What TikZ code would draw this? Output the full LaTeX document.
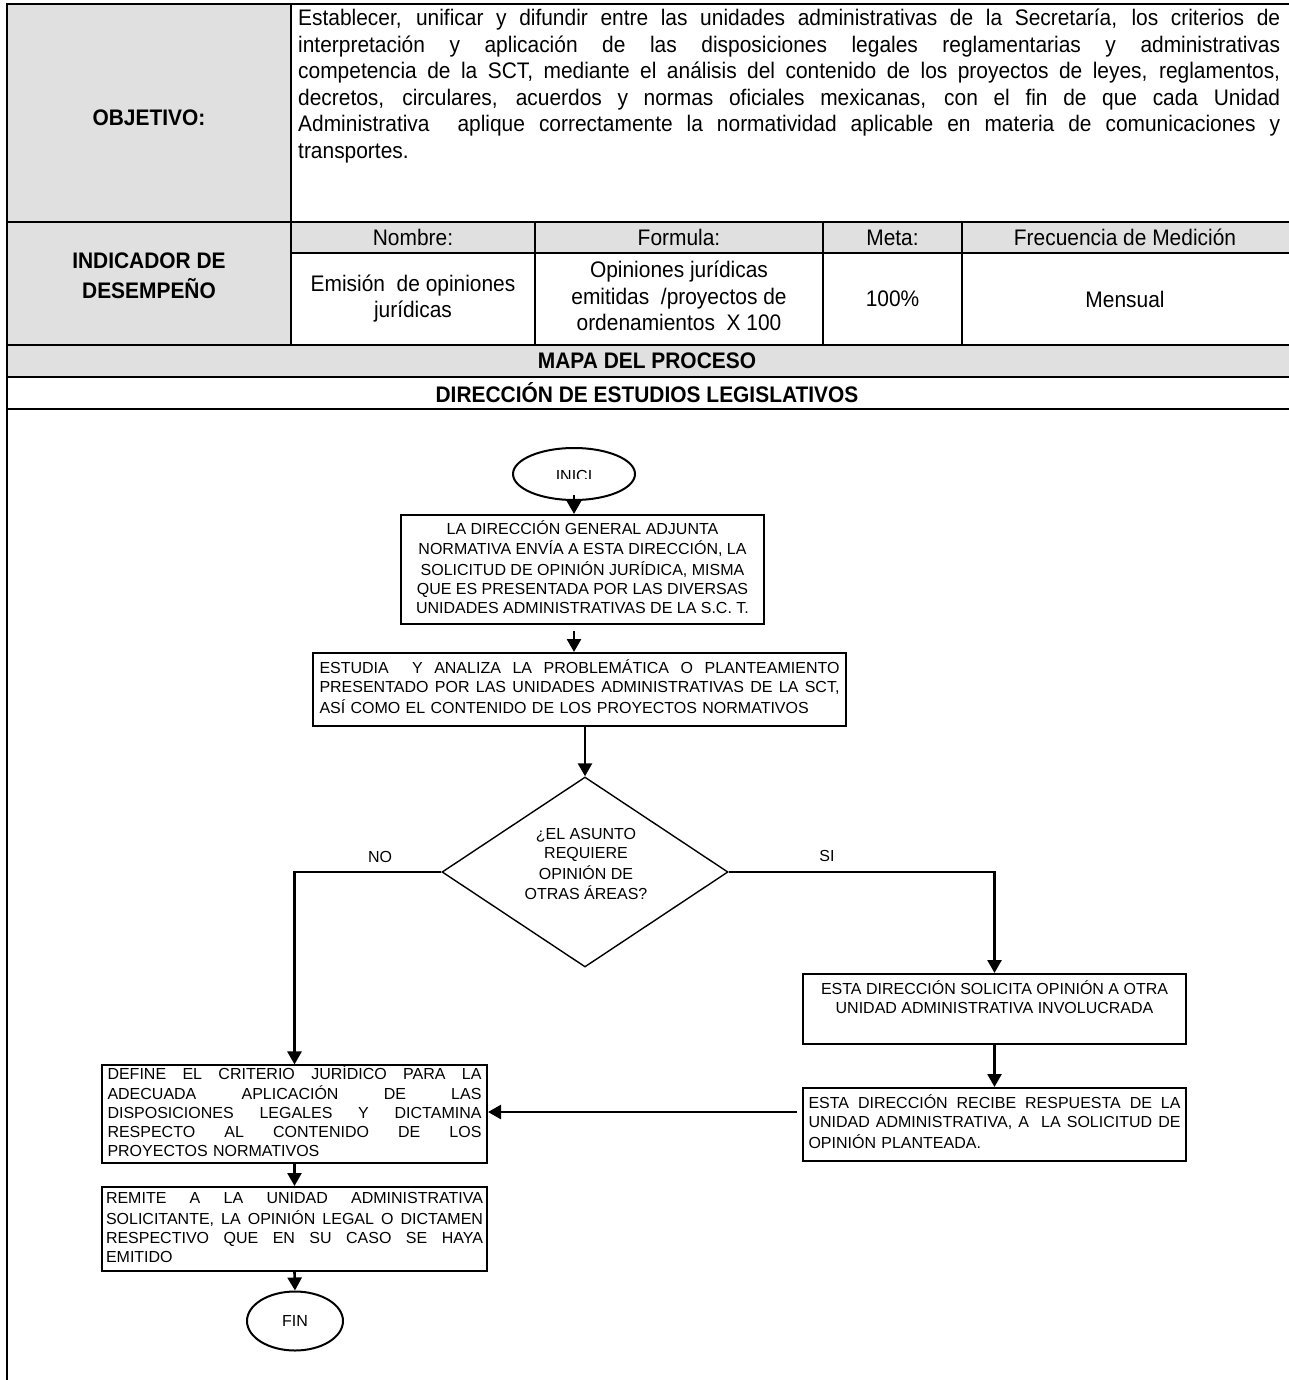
\documentclass[tikz,border=0pt]{standalone}
\usepackage{fontspec}
\setmainfont{Liberation Sans}
\newfontfamily\narrowfont[FakeStretch=0.93]{Liberation Sans}
\usetikzlibrary{arrows.meta,shapes.geometric,calc}
\definecolor{cellgray}{RGB}{224,224,224}
\newcommand{\jl}[2]{\strut\hbox to #1{\spaceskip=\fontdimen2\font plus 1fil\relax #2}}
\begin{document}
\begin{tikzpicture}[x=1pt,y=-1pt,
  tline/.style={line width=2.8pt},
  tabtxt/.style={font=\narrowfont\fontsize{22.5}{26.5}\selectfont, inner sep=0pt, align=center},
  tabbold/.style={font=\narrowfont\bfseries\fontsize{22.5}{28}\selectfont, inner sep=0pt, align=center},
  flowbox/.style={draw, line width=2pt, rectangle, inner sep=0pt, font=\fontsize{16}{19}\selectfont},
  flowtxt/.style={inner sep=0pt, font=\fontsize{16}{19}\selectfont, align=center},
  term/.style={draw, ellipse, line width=2pt, inner sep=0pt, font=\fontsize{16}{19}\selectfont},
  decision/.style={draw, diamond, line width=1.4pt, inner sep=0pt, aspect=1.5},
  arr/.style={line width=2.6pt, -{Triangle[length=13pt,width=14pt]}},
  thinline/.style={line width=1.4pt},
]
\useasboundingbox (0,0) rectangle (1289,1380);
\fill[white] (0,0) rectangle (1289,1380);
% ---- table shading
\fill[cellgray] (7,4) rectangle (291,345);
\fill[cellgray] (291,222) rectangle (1289,253);
\fill[cellgray] (7,345) rectangle (1289,377);
% ---- table rules
\draw[tline] (1289,4) -- (7,4) -- (7,1380);
\draw[tline] (291,4) -- (291,345);
\draw[tline] (7,222) -- (1289,222);
\draw[tline] (291,253) -- (1289,253);
\draw[tline] (535,222) -- (535,345);
\draw[tline] (823,222) -- (823,345);
\draw[tline] (962,222) -- (962,345);
\draw[tline] (7,345) -- (1289,345);
\draw[tline] (7,377) -- (1289,377);
\draw[tline] (7,409) -- (1289,409);
% ---- table texts
\node[tabbold] (objlabel) at (149,118) {OBJETIVO:};
\node[tabtxt, anchor=north west, align=left, text width=982pt] (objtext) at (298,7) {%
\jl{982pt}{Establecer, unificar y difundir entre las unidades administrativas de la Secretaría, los criterios de}\\
\jl{982pt}{interpretación y aplicación de las disposiciones legales reglamentarias y administrativas}\\
\jl{982pt}{competencia de la SCT, mediante el análisis del contenido de los proyectos de leyes, reglamentos,}\\
\jl{982pt}{decretos, circulares, acuerdos y normas oficiales mexicanas, con el fin de que cada Unidad}\\
\jl{982pt}{Administrativa\ \ aplique correctamente la normatividad aplicable en materia de comunicaciones y}\\
\strut transportes.};
\node[tabbold] (indlabel) at (149,278) {\strut INDICADOR DE\\\strut DESEMPEÑO};
\node[tabtxt] (hnom) at (413,237.5) {Nombre:};
\node[tabtxt] (hfor) at (679,237.5) {Formula:};
\node[tabtxt] (hmet) at (892.5,237.5) {Meta:};
\node[tabtxt] (hfre) at (1125,237.5) {Frecuencia de Medición};
\node[tabtxt] (dnom) at (413,299) {\strut Emisión\ \ de opiniones\\\strut jurídicas};
\node[tabtxt] (dfor) at (679,299) {\strut Opiniones jurídicas\\\strut emitidas\ \ /proyectos de\\\strut ordenamientos\ \ X 100};
\node[tabtxt] (dmet) at (892.5,299) {100\%};
\node[tabtxt] (dfre) at (1125,299) {Mensual};
\node[tabbold] (mapa) at (647,361) {MAPA DEL PROCESO};
\node[tabbold] (direc) at (647,393) {DIRECCIÓN DE ESTUDIOS LEGISLATIVOS};
% ---- flowchart
\node[term, minimum width=122pt, minimum height=52pt] (ini) at (574,474) {};
\begin{scope}
\clip (520,460) rectangle (630,478);
\node[flowtxt] (initxt) at (574,476) {INICI};
\end{scope}
\node[flowbox, minimum width=363pt, minimum height=109pt, align=center] (b1) at (582.5,569.5) {%
\strut LA DIRECCIÓN GENERAL ADJUNTA\\
\strut NORMATIVA ENVÍA A ESTA DIRECCIÓN, LA\\
\strut SOLICITUD DE OPINIÓN JURÍDICA, MISMA\\
\strut QUE ES PRESENTADA POR LAS DIVERSAS\\
\strut UNIDADES ADMINISTRATIVAS DE LA S.C. T.};
\node[flowbox, minimum width=533pt, minimum height=73pt, text width=520pt, align=left] (b2) at (579.5,689.5) {%
\jl{520pt}{ESTUDIA\ \ Y ANALIZA LA PROBLEMÁTICA O PLANTEAMIENTO}\\
\jl{520pt}{PRESENTADO POR LAS UNIDADES ADMINISTRATIVAS DE LA SCT,}\\
\strut ASÍ COMO EL CONTENIDO DE LOS PROYECTOS NORMATIVOS};
\node[decision, minimum width=286pt, minimum height=190pt] (dia) at (585,872) {};
\node[flowtxt] (diatxt) at (586,866) {\strut ¿EL ASUNTO\\\strut REQUIERE\\\strut OPINIÓN DE\\\strut OTRAS ÁREAS?};
\node[flowtxt] (nolab) at (380,857) {NO};
\node[flowtxt] (silab) at (827,856) {SI};
\node[flowbox, minimum width=383pt, minimum height=70pt, align=center] (b4) at (994.5,1009) {%
\strut ESTA DIRECCIÓN SOLICITA OPINIÓN A OTRA\\
\strut UNIDAD ADMINISTRATIVA INVOLUCRADA\\
\strut};
\node[flowbox, minimum width=383pt, minimum height=73pt, text width=372pt, align=left] (b5) at (994.5,1124.5) {%
\jl{372pt}{ESTA DIRECCIÓN RECIBE RESPUESTA DE LA}\\
\jl{372pt}{UNIDAD ADMINISTRATIVA, A\ \ LA SOLICITUD DE}\\
\strut OPINIÓN PLANTEADA.};
\node[flowbox, minimum width=385pt, minimum height=96pt, text width=374pt, align=left] (b3) at (294.5,1114) {%
\jl{374pt}{DEFINE EL CRITERIO JURÍDICO PARA LA}\\
\jl{374pt}{ADECUADA APLICACIÓN DE LAS}\\
\jl{374pt}{DISPOSICIONES LEGALES Y DICTAMINA}\\
\jl{374pt}{RESPECTO AL CONTENIDO DE LOS}\\
\strut PROYECTOS NORMATIVOS};
\node[flowbox, minimum width=385pt, minimum height=84pt, text width=377pt, align=left] (b6) at (294.5,1229) {%
\jl{377pt}{REMITE A LA UNIDAD ADMINISTRATIVA}\\
\jl{377pt}{SOLICITANTE, LA OPINIÓN LEGAL O DICTAMEN}\\
\jl{377pt}{RESPECTIVO QUE EN SU CASO SE HAYA}\\
\strut EMITIDO};
\node[term, minimum width=96pt, minimum height=59pt] (fin) at (295,1321) {FIN};
% ---- connectors
\draw[arr] ([yshift=6pt]ini.south) -- (ini.south |- b1.north);
\coordinate (a1) at (b1.south -| ini.south);
\draw[arr] ([yshift=-6pt]a1) -- (a1 |- b2.north);
\draw[arr] (b2.south -| dia.north) -- (dia.north);
\coordinate (nocorner) at (dia.west -| b3.north);
\draw[thinline] (dia.west) -- (nocorner);
\draw[arr] ([yshift=0.7pt]nocorner) -- (b3.north);
\coordinate (sicorner) at (dia.east -| b4.north);
\draw[thinline] (dia.east) -- (sicorner);
\draw[arr] ([yshift=0.7pt]sicorner) -- (b4.north);
\draw[arr] (b4.south) -- (b5.north);
\coordinate (b5in) at ($(b5.north west)+(-5,25)$);
\draw[arr] (b5in) -- (b5in -| b3.east);
\draw[arr] (b3.south) -- (b6.north);
\draw[arr] (b6.south) -- (fin.north);
\end{tikzpicture}
\end{document}
